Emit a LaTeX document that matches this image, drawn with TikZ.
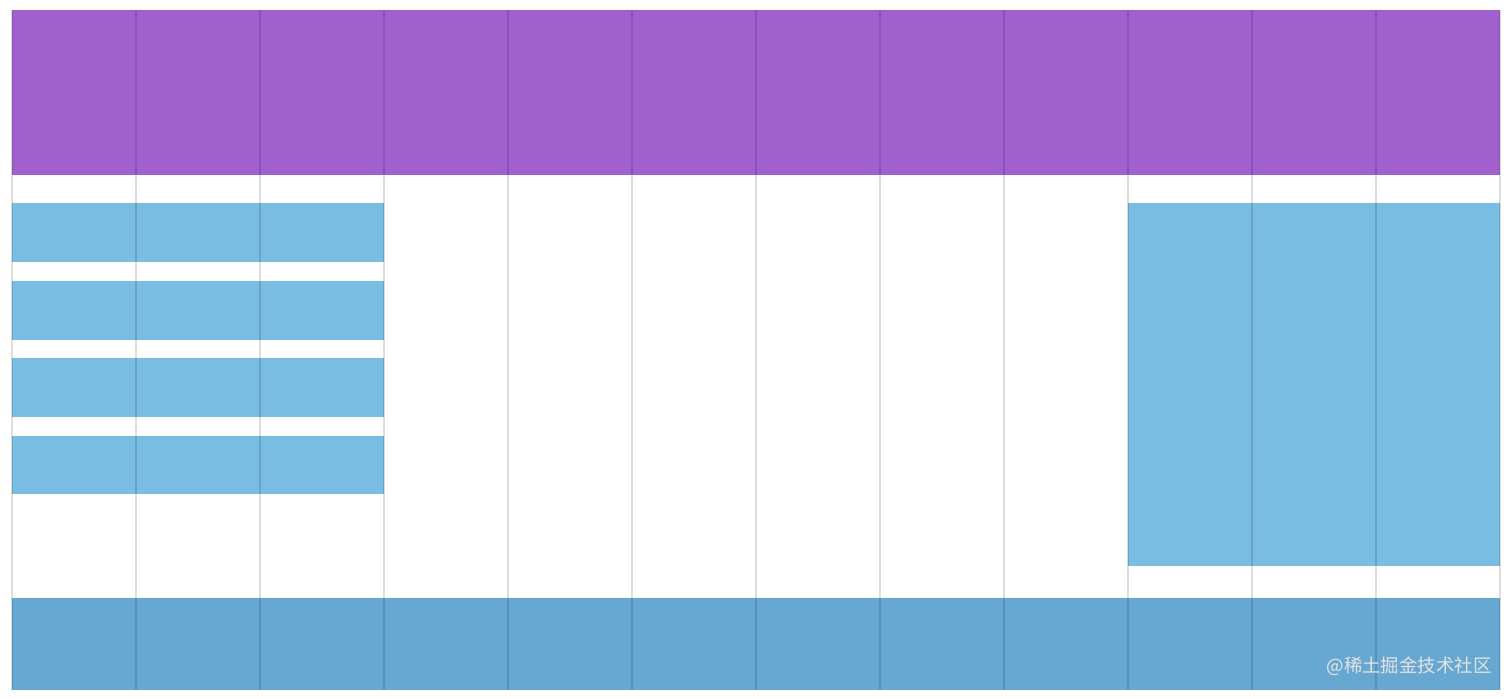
\documentclass[tikz,border=0pt]{standalone}
\usepackage{fontspec}
\newfontfamily\cjk{Noto Sans CJK SC}

\definecolor{headpurple}{HTML}{A061CF}
\definecolor{barblue}{HTML}{7ABDE2}
\definecolor{footblue}{HTML}{67A8D3}

\begin{document}
\begin{tikzpicture}[x=0.02cm, y=-0.02cm]

\useasboundingbox (0,0) rectangle (1512,698);

% Header row
\fill[headpurple] (12,10) rectangle (1500,175);

% Left column stack
\foreach \top/\bot in {203/262, 281/340, 358/417, 436/494}
    \fill[barblue] (12,\top) rectangle (384,\bot);

% Right block
\fill[barblue] (1128,203) rectangle (1500,566);

% Footer row
\fill[footblue] (12,598) rectangle (1500,690);

% Column grid lines (darken whatever lies below)
\foreach \i in {0,...,12}
    \draw[black, opacity=0.13, line width=0.028cm] (12+124*\i,10) -- (12+124*\i,690);

% Watermark
\node[anchor=east, text=white!78!gray, font=\cjk\fontsize{10.5pt}{12pt}\selectfont, inner sep=0pt]
    (mark) at (1492,666) {@稀土掘金技术社区};

\end{tikzpicture}
\end{document}
